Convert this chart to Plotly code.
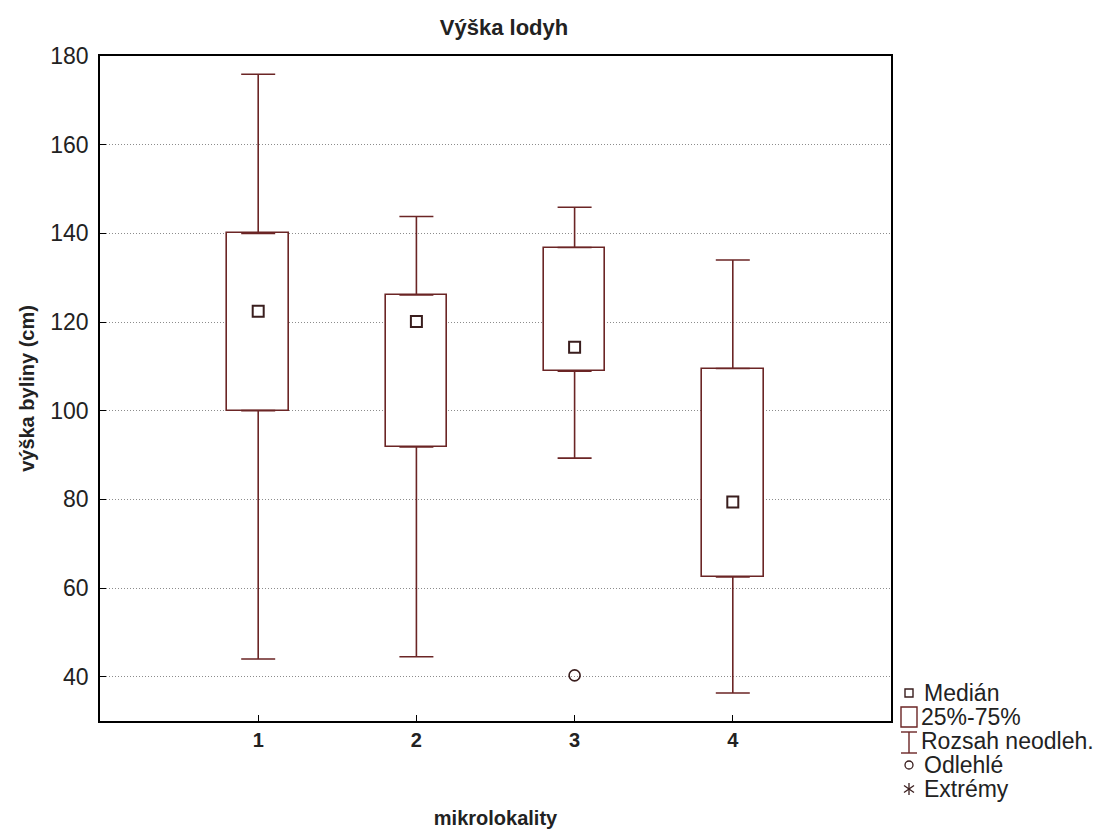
import plotly.graph_objects as go

# ---- data ----
categories = [1, 2, 3, 4]
tick_labels = ["1", "2", "3", "4"]
medians = [122.4, 120.1, 114.3, 79.4]
q1 = [100.0, 91.8, 108.9, 62.5]
q3 = [140.0, 126.1, 136.8, 109.5]
whisker_low = [44.0, 44.5, 89.3, 36.3]
whisker_high = [175.9, 143.8, 145.9, 134.0]
outlier_x = [3]
outlier_y = [40.3]
y_ticks = [40, 60, 80, 100, 120, 140, 160, 180]

C = "#6b2525"
DARK = "#3a1e1e"
FONT = "Liberation Sans, Arial, sans-serif"

OFF = 8  # page body margin
W, H = 1100, 825
L, R, T, B = 92, 217, 48, 112
PW, PH = W - L - R, H - T - B


def px(xs):
    # screen x -> paper fraction
    return (xs - OFF - L) / PW


def py(ys):
    # screen y -> paper fraction
    return (H - B - (ys - OFF)) / PH


fig = go.Figure()

# IQR boxes
fig.add_trace(go.Bar(
    x=categories,
    y=[b - a for a, b in zip(q1, q3)],
    base=q1,
    width=0.39,
    marker=dict(color="white", line=dict(color=C, width=1.6)),
    hoverinfo="skip",
))

# upper whiskers
fig.add_trace(go.Scatter(
    x=categories, y=q3, mode="markers",
    marker=dict(color="rgba(0,0,0,0)", size=1),
    error_y=dict(type="data", symmetric=False,
                 array=[h - b for h, b in zip(whisker_high, q3)],
                 arrayminus=[0] * len(q3),
                 color=C, thickness=1.6, width=17),
    hoverinfo="skip",
))
# lower whiskers
fig.add_trace(go.Scatter(
    x=categories, y=q1, mode="markers",
    marker=dict(color="rgba(0,0,0,0)", size=1),
    error_y=dict(type="data", symmetric=False,
                 array=[0] * len(q1),
                 arrayminus=[a - l for a, l in zip(q1, whisker_low)],
                 color=C, thickness=1.6, width=17),
    hoverinfo="skip",
))
# medians
fig.add_trace(go.Scatter(
    x=categories, y=medians, mode="markers",
    marker=dict(symbol="square-open", size=11, color=DARK, line=dict(width=2, color=DARK)),
))
# outliers
fig.add_trace(go.Scatter(
    x=outlier_x, y=outlier_y, mode="markers",
    marker=dict(symbol="circle-open", size=11, color=DARK, line=dict(width=1.6, color=DARK)),
))

# ---- custom legend (drawn outside the plot) ----
shapes = []
annotations = []
lx = 909
rows = [693, 717, 741, 765, 789]
labels = ["Medián", "25%-75%", "Rozsah neodleh.", "Odlehlé", "Extrémy"]
text_x = [922, 919, 919, 922, 922]
for yy, lab, tx in zip(rows, labels, text_x):
    annotations.append(dict(x=px(tx), y=py(yy), xref="paper", yref="paper",
                            text=lab, showarrow=False, xanchor="left", yanchor="middle",
                            font=dict(family=FONT, size=23, color="#222")))
# small square
shapes.append(dict(type="rect", xref="paper", yref="paper",
                   x0=px(lx - 4), x1=px(lx + 4), y0=py(rows[0] + 4), y1=py(rows[0] - 4),
                   line=dict(color=DARK, width=1.4)))
# big square
shapes.append(dict(type="rect", xref="paper", yref="paper",
                   x0=px(lx - 8), x1=px(lx + 8), y0=py(rows[1] + 10), y1=py(rows[1] - 10),
                   line=dict(color=C, width=1.4)))
# I-beam
for seg in [((lx, rows[2] - 9), (lx, rows[2] + 12)),
            ((lx - 8, rows[2] - 9), (lx + 8, rows[2] - 9)),
            ((lx - 8, rows[2] + 12), (lx + 8, rows[2] + 12))]:
    shapes.append(dict(type="line", xref="paper", yref="paper",
                       x0=px(seg[0][0]), y0=py(seg[0][1]), x1=px(seg[1][0]), y1=py(seg[1][1]),
                       line=dict(color=C, width=1.4)))
# circle
shapes.append(dict(type="circle", xref="paper", yref="paper",
                   x0=px(lx - 4), x1=px(lx + 4), y0=py(rows[3] + 4), y1=py(rows[3] - 4),
                   line=dict(color=DARK, width=1.3)))
# asterisk
for seg in [((lx, rows[4] - 6), (lx, rows[4] + 6)),
            ((lx - 5, rows[4] - 3.5), (lx + 5, rows[4] + 3.5)),
            ((lx - 5, rows[4] + 3.5), (lx + 5, rows[4] - 3.5))]:
    shapes.append(dict(type="line", xref="paper", yref="paper",
                       x0=px(seg[0][0]), y0=py(seg[0][1]), x1=px(seg[1][0]), y1=py(seg[1][1]),
                       line=dict(color=DARK, width=1.3)))

fig.update_layout(
    width=W, height=H,
    margin=dict(l=L, r=R, t=T, b=B, pad=0),
    paper_bgcolor="white", plot_bgcolor="white",
    showlegend=False,
    font=dict(family=FONT, size=20, color="#222"),
    title=dict(text="<b>Výška lodyh</b>", x=(504 - OFF) / W, xanchor="center",
               xref="container", y=1 - (27 - OFF) / H, yref="container", yanchor="middle",
               font=dict(family=FONT, size=22, color="#222")),
    shapes=shapes,
    annotations=annotations,
    bargap=0,
)

fig.update_xaxes(
    range=[0, 5], tickmode="array", tickvals=categories,
    ticktext=["<b>%s</b>" % t for t in tick_labels],
    ticks="inside", ticklen=6, tickcolor="black", tickwidth=1,
    showline=True, linecolor="black", linewidth=1.5, mirror=True,
    showgrid=False, zeroline=False, automargin=False,
    tickfont=dict(family=FONT, size=20, color="#222"),
    title=dict(text="<b>mikrolokality</b>", standoff=61,
               font=dict(family=FONT, size=20, color="#222")),
)
fig.update_yaxes(
    range=[30, 180], tickmode="array", tickvals=y_ticks,
    ticks="inside", ticklen=6, tickcolor="black", tickwidth=1,
    showline=True, linecolor="black", linewidth=1.5, mirror=True,
    showgrid=True, gridcolor="#8c8c8c", griddash="1px,2px", gridwidth=1,
    zeroline=False, ticklabelstandoff=5, automargin=False,
    tickfont=dict(family=FONT, size=23, color="#222"),
    title=dict(text="<b>výška byliny (cm)</b>", standoff=10,
               font=dict(family=FONT, size=20, color="#222")),
)

fig.write_html("out.html")
